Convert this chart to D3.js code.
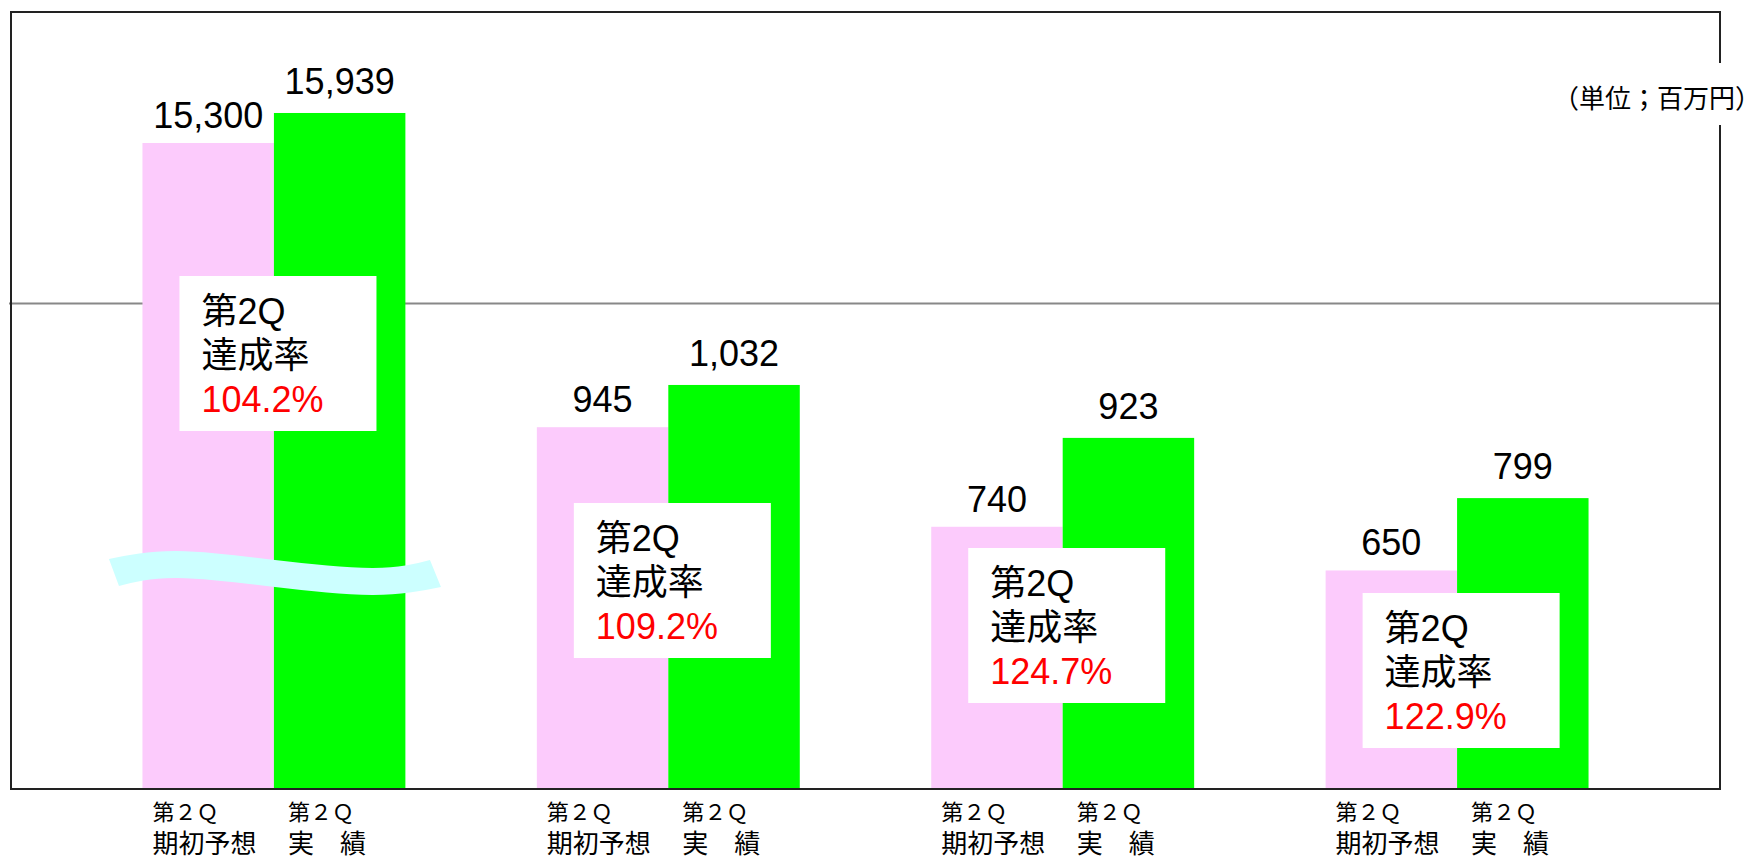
<!DOCTYPE html>
<html>
<head>
<meta charset="utf-8">
<script src="https://cdn.jsdelivr.net/npm/d3@7"></script>
<style>
  html, body { margin: 0; padding: 0; background: #fff; }
  svg { display: block; }
</style>
</head>
<body>
<svg id="chart" width="1754" height="858"></svg>
<script>
// data
const groups = ['g1', 'g2', 'g3', 'g4'];
const seriesKeys = ['forecast', 'actual'];
const forecast = [15300, 945, 740, 650];
const actual = [15939, 1032, 923, 799];
const rates = ['104.2%', '109.2%', '124.7%', '122.9%'];
const labelLine1 = ['第２Ｑ', '第２Ｑ'];
const labelLine2 = ['期初予想', '実　績'];
const brokenGroup = 'g1';
const unitText = '（単位；百万円）';

// layout
const width = 1754, height = 858;
const frame = { left: 11, top: 12, right: 1720, bottom: 789 };
const colors = { forecast: '#fccbfc', actual: '#00ff00' };
const boxTop = [276, 503, 548, 593];
const latin = '"Liberation Sans", Arial, "Noto Sans CJK JP", sans-serif';
const cjk = '"Noto Sans CJK JP", "Liberation Sans", sans-serif';

const svg = d3.select('#chart');

const x0 = d3.scaleBand()
    .domain(groups)
    .range([frame.left, frame.right])
    .padding(1 / 3);

const x1 = d3.scaleBand()
    .domain(seriesKeys)
    .range([0, x0.bandwidth()]);

// normal scale (axis starts above zero) and the compressed one for the broken group
const y = d3.scaleLinear().domain([200, 1800]).range([frame.bottom, frame.top]);
const yBroken = d3.scaleLinear().domain([1540, 18090]).range([frame.bottom, frame.top]);
const yFor = g => (g === brokenGroup ? yBroken : y);

const rows = groups.map((g, i) => ({
    group: g,
    values: [
        { key: 'forecast', value: forecast[i] },
        { key: 'actual', value: actual[i] }
    ]
}));

// frame background
svg.append('rect')
    .attr('x', frame.left).attr('y', frame.top)
    .attr('width', frame.right - frame.left)
    .attr('height', frame.bottom - frame.top)
    .attr('fill', '#fff');

// gridline
svg.append('line')
    .attr('x1', frame.left - 2).attr('x2', frame.right)
    .attr('y1', y(1200)).attr('y2', y(1200))
    .attr('stroke', '#888').attr('stroke-width', 2);

const fmt = d3.format(',');

const gSel = svg.selectAll('.grp')
    .data(rows)
    .enter()
    .append('g')
    .attr('class', 'grp')
    .attr('transform', d => 'translate(' + x0(d.group) + ',0)');

gSel.selectAll('rect.bar')
    .data(d => d.values.map(v => Object.assign({ group: d.group }, v)))
    .enter()
    .append('rect')
    .attr('class', 'bar')
    .attr('x', d => x1(d.key))
    .attr('y', d => yFor(d.group)(d.value))
    .attr('width', x1.bandwidth())
    .attr('height', d => frame.bottom - yFor(d.group)(d.value))
    .attr('fill', d => colors[d.key]);

gSel.selectAll('text.val')
    .data(d => d.values.map(v => Object.assign({ group: d.group }, v)))
    .enter()
    .append('text')
    .attr('class', 'val')
    .attr('x', d => x1(d.key) + x1.bandwidth() / 2)
    .attr('y', d => yFor(d.group)(d.value) - (d.key === 'forecast' ? 15 : 19))
    .attr('text-anchor', 'middle')
    .style('font-family', latin)
    .style('font-size', '36px')
    .attr('fill', '#000')
    .text(d => fmt(d.value));

// break mark (wavy band) on the broken group
const breakY = 573;
const waveTop = [[-33.5, -14], [34.5, -22], [132.5, -13], [230.5, -5], [287.5, -13]];
const waveBottom = [[-23.5, 13], [34.5, 5], [132.5, 14], [230.5, 22], [298.5, 14]];
const waveLine = d3.line()
    .x(d => x0(brokenGroup) + d[0])
    .y(d => breakY + d[1])
    .curve(d3.curveNatural);
const topPath = waveLine(waveTop);
const botPath = waveLine(waveBottom.slice().reverse()).replace(/^M/, 'L');
svg.append('path')
    .attr('d', topPath + botPath + 'Z')
    .attr('fill', '#ccffff');

// achievement boxes
const boxW = 197, boxH = 155;
const boxes = svg.selectAll('.box')
    .data(groups)
    .enter()
    .append('g')
    .attr('class', 'box')
    .attr('transform', (g, i) => 'translate(' + (x0(g) + 37) + ',' + boxTop[i] + ')');

boxes.append('rect')
    .attr('width', boxW).attr('height', boxH)
    .attr('fill', '#fff');

boxes.append('text')
    .attr('x', 22).attr('y', 48)
    .style('font-family', latin).style('font-size', '36px')
    .text('第2Q');

boxes.append('text')
    .attr('x', 22).attr('y', 92)
    .style('font-family', cjk).style('font-size', '36px')
    .text('達成率');

boxes.append('text')
    .attr('x', 22).attr('y', 136)
    .style('font-family', latin).style('font-size', '36px')
    .attr('fill', '#ff0000')
    .text((g, i) => rates[i]);

// frame border
svg.append('rect')
    .attr('x', frame.left).attr('y', frame.top)
    .attr('width', frame.right - frame.left)
    .attr('height', frame.bottom - frame.top)
    .attr('fill', 'none')
    .attr('stroke', '#222')
    .attr('stroke-width', 2);

// category labels under each bar
groups.forEach(g => {
    seriesKeys.forEach((k, j) => {
        const lx = x0(g) + x1(k) + (j === 0 ? 10 : 14);
        svg.append('text')
            .attr('x', lx).attr('y', 820)
            .style('font-family', cjk).style('font-size', '22px')
            .text(labelLine1[j]);
        svg.append('text')
            .attr('x', lx).attr('y', 853)
            .style('font-family', cjk).style('font-size', '26px')
            .text(labelLine2[j]);
    });
});

// unit label, interrupting the right border
svg.append('rect')
    .attr('x', 1550).attr('y', 63)
    .attr('width', width - 1550).attr('height', 62)
    .attr('fill', '#fff');

svg.append('text')
    .attr('x', 1553).attr('y', 108)
    .style('font-family', cjk).style('font-size', '26px')
    .text(unitText);
</script>
</body>
</html>
